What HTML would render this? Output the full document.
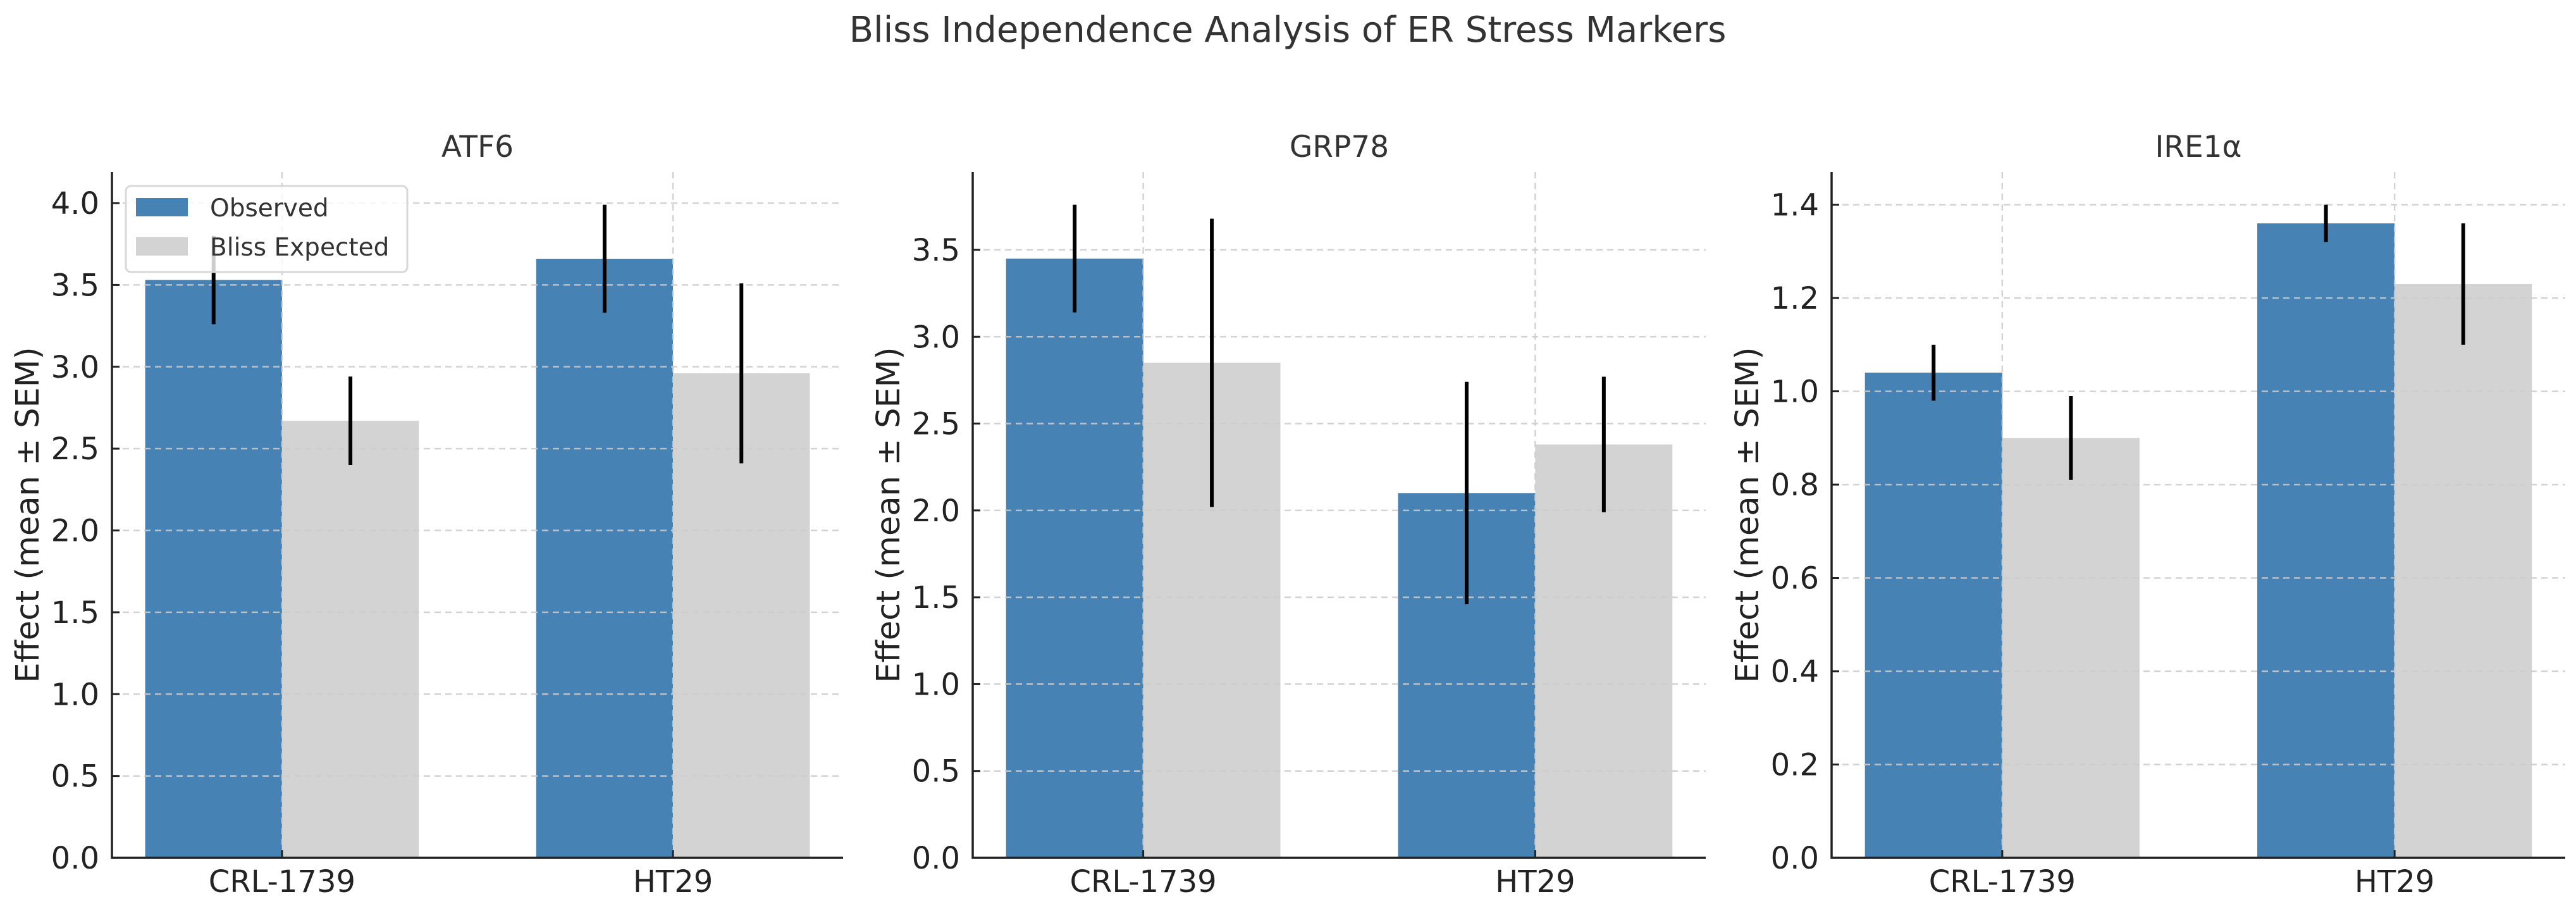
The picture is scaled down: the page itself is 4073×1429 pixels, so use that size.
<!DOCTYPE html>
<html>
<head>
<meta charset="utf-8">
<style>
html,body{margin:0;padding:0;background:#fff;}
svg{display:block;font-family:"DejaVu Sans","Liberation Sans",sans-serif;}
</style>
</head>
<body>
<svg id="chart" width="4073" height="1429" viewBox="0 0 4073 1429" xmlns="http://www.w3.org/2000/svg">
<rect width="4073" height="1429" fill="#fff"/>
<text x="2036" y="66" text-anchor="middle" font-size="56" fill="#333">Bliss Independence Analysis of ER Stress Markers</text>
</svg>
<script>
const categories = ["CRL-1739", "HT29"];
const markers = ["ATF6", "GRP78", "IRE1α"];
const observedATF6 = [3.53, 3.66];
const observedErrATF6 = [0.27, 0.33];
const expectedATF6 = [2.67, 2.96];
const expectedErrATF6 = [0.27, 0.55];
const observedGRP78 = [3.45, 2.10];
const observedErrGRP78 = [0.31, 0.64];
const expectedGRP78 = [2.85, 2.38];
const expectedErrGRP78 = [0.83, 0.39];
const observedIRE1 = [1.04, 1.36];
const observedErrIRE1 = [0.06, 0.04];
const expectedIRE1 = [0.90, 1.23];
const expectedErrIRE1 = [0.09, 0.13];
const ticksATF6 = [0, 0.5, 1.0, 1.5, 2.0, 2.5, 3.0, 3.5, 4.0];
const ticksGRP78 = [0, 0.5, 1.0, 1.5, 2.0, 2.5, 3.0, 3.5];
const ticksIRE1 = [0, 0.2, 0.4, 0.6, 0.8, 1.0, 1.2, 1.4];
const tickDecimals = [1, 1, 1];

const svg = document.getElementById('chart');
const NS = 'http://www.w3.org/2000/svg';
function el(tag, attrs, parent) {
  const e = document.createElementNS(NS, tag);
  for (const k in attrs) e.setAttribute(k, attrs[k]);
  (parent || svg).appendChild(e);
  return e;
}
const panels = [
  {left:177, right:1333, obs:observedATF6, obsE:observedErrATF6, exp:expectedATF6, expE:expectedErrATF6, ticks:ticksATF6},
  {left:1538, right:2697, obs:observedGRP78, obsE:observedErrGRP78, exp:expectedGRP78, expE:expectedErrGRP78, ticks:ticksGRP78},
  {left:2896, right:4056, obs:observedIRE1, obsE:observedErrIRE1, exp:expectedIRE1, expE:expectedErrIRE1, ticks:ticksIRE1}
];
const TOP = 272, BOTTOM = 1356;
const BARW = 0.35;
panels.forEach((p, pi) => {
  const g = el('g', {});
  
  
  let maxTop = 0;
  for (let i = 0; i < categories.length; i++) {
    maxTop = Math.max(maxTop, p.obs[i] + p.obsE[i], p.exp[i] + p.expE[i]);
  }
  const ymax = maxTop * 1.05;
  const xmin = -BARW - 0.085, xmax = 1 + BARW + 0.085;
  const X = v => p.left + (v - xmin) / (xmax - xmin) * (p.right - p.left);
  const Y = v => BOTTOM - v / ymax * (BOTTOM - TOP);
  for (let i = 0; i < categories.length; i++) {
    const b1 = el('rect', {x:X(i - BARW), y:Y(p.obs[i]), width:X(i) - X(i - BARW), height:Y(0) - Y(p.obs[i]), fill:'#4682b4'}, g);
    
    
    const b2 = el('rect', {x:X(i), y:Y(p.exp[i]), width:X(i + BARW) - X(i), height:Y(0) - Y(p.exp[i]), fill:'#d3d3d3'}, g);
    
    
  }
  p.ticks.forEach(t => {
    const gl = el('line', {x1:p.left, x2:p.right, y1:Y(t), y2:Y(t), stroke:'#cccccc', 'stroke-width':2.5, 'stroke-dasharray':'10 7', opacity:0.85}, g);
    
    
  });
  categories.forEach((c, i) => {
    const gl = el('line', {x1:X(i), x2:X(i), y1:TOP, y2:BOTTOM, stroke:'#cccccc', 'stroke-width':2.5, 'stroke-dasharray':'10 7', opacity:0.85}, g);
    
    
  });
  for (let i = 0; i < categories.length; i++) {
    const e1 = el('line', {x1:X(i - BARW/2), x2:X(i - BARW/2), y1:Y(p.obs[i] - p.obsE[i]), y2:Y(p.obs[i] + p.obsE[i]), stroke:'#000', 'stroke-width':6}, g);
    
    
    const e2 = el('line', {x1:X(i + BARW/2), x2:X(i + BARW/2), y1:Y(p.exp[i] - p.expE[i]), y2:Y(p.exp[i] + p.expE[i]), stroke:'#000', 'stroke-width':6}, g);
    
    
  }
  const sl = el('line', {x1:p.left, x2:p.left, y1:TOP, y2:BOTTOM + 1.5, stroke:'#222', 'stroke-width':3.5}, g);
  
  
  const sb = el('line', {x1:p.left - 1.5, x2:p.right, y1:BOTTOM, y2:BOTTOM, stroke:'#222', 'stroke-width':3.5}, g);
  
  
  p.ticks.forEach(t => {
    el('line', {x1:p.left, x2:p.left + 12, y1:Y(t), y2:Y(t), stroke:'#222', 'stroke-width':3}, g);
    const tl = el('text', {x:p.left - 20, y:Y(t) + 17, 'text-anchor':'end', 'font-size':48, fill:'#222'}, g);
    
    
    tl.textContent = t.toFixed(tickDecimals[pi]);
  });
  categories.forEach((c, i) => {
    el('line', {x1:X(i), x2:X(i), y1:BOTTOM, y2:BOTTOM - 12, stroke:'#222', 'stroke-width':3}, g);
    const xl = el('text', {x:X(i), y:1410, 'text-anchor':'middle', 'font-size':48, fill:'#222'}, g);
    
    
    xl.textContent = c;
  });
  const tt = el('text', {x:(p.left + p.right)/2, y:248, 'text-anchor':'middle', 'font-size':47, fill:'#333'}, g);
  
  
  tt.textContent = markers[pi];
  const cx = p.left - 116, cy = (TOP + BOTTOM)/2;
  const yl = el('text', {x:cx, y:cy, 'text-anchor':'middle', 'font-size':51, fill:'#222', transform:'rotate(-90 ' + cx + ' ' + cy + ')'}, g);
  
  
  yl.textContent = 'Effect (mean ± SEM)';
});
const lg = el('g', {});


el('rect', {x:199, y:294, width:445, height:136, rx:8, fill:'#fff', 'fill-opacity':0.8, stroke:'#d8d8d8', 'stroke-width':3}, lg);
const p1 = el('rect', {x:215, y:313, width:82, height:29, fill:'#4682b4'}, lg);


const t1 = el('text', {x:332, y:342, 'font-size':39, fill:'#333'}, lg);


t1.textContent = 'Observed';
const p2 = el('rect', {x:215, y:375, width:82, height:29, fill:'#d3d3d3'}, lg);


const t2 = el('text', {x:332, y:404, 'font-size':39, fill:'#333'}, lg);


t2.textContent = 'Bliss Expected';
</script>
</body>
</html>
